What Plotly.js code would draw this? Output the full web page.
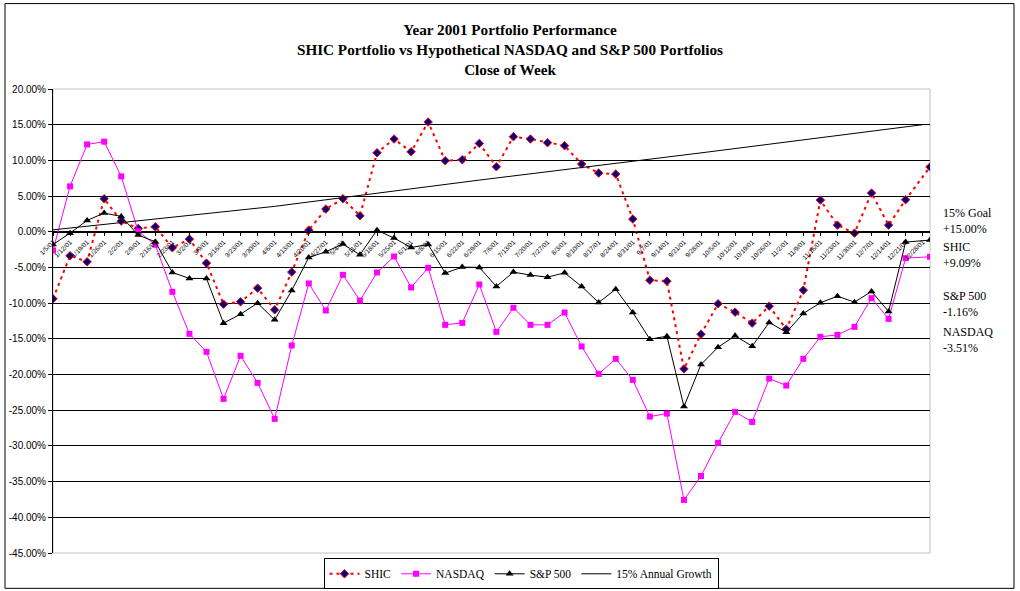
<!DOCTYPE html>
<html>
<head>
<meta charset="utf-8">
<script src="https://cdn.plot.ly/plotly-3.0.1.min.js"></script>
<style>html,body{margin:0;padding:0;background:#fff;}#chart{width:1020px;height:591px;}</style>
</head>
<body>
<div id="chart"></div>
<script>
// ---- data ----
const weekDates = [
 '2001-01-05','2001-01-12','2001-01-19','2001-01-26','2001-02-02','2001-02-09','2001-02-16','2001-02-23',
 '2001-03-02','2001-03-09','2001-03-16','2001-03-23','2001-03-30','2001-04-06','2001-04-13','2001-04-20',
 '2001-04-27','2001-05-04','2001-05-11','2001-05-18','2001-05-25','2001-06-01','2001-06-08','2001-06-15',
 '2001-06-22','2001-06-29','2001-07-06','2001-07-13','2001-07-20','2001-07-27','2001-08-03','2001-08-10',
 '2001-08-17','2001-08-24','2001-08-31','2001-09-07','2001-09-14','2001-09-21','2001-09-28','2001-10-05',
 '2001-10-12','2001-10-19','2001-10-26','2001-11-02','2001-11-09','2001-11-16','2001-11-23','2001-11-30',
 '2001-12-07','2001-12-14','2001-12-21','2001-12-31'];

const shic = [-9.39,-3.36,-4.21,4.63,1.50,0.47,0.70,-2.24,-1.03,-4.39,-10.14,-9.81,-7.90,-10.93,-5.65,0.23,
 3.18,4.63,2.24,11.07,12.99,11.21,15.37,9.95,10.09,12.38,9.11,13.32,12.99,12.48,12.06,9.49,
 8.22,8.08,1.78,-6.78,-6.92,-19.21,-14.35,-10.09,-11.26,-12.80,-10.42,-13.64,-8.18,4.44,0.93,-0.19,
 5.42,0.93,4.49,9.09];

const nasdaq = [-2.62,6.36,12.24,12.62,7.76,0.05,-1.82,-8.41,-14.30,-16.82,-23.41,-17.38,-21.17,-26.21,-15.93,-7.24,
 -11.03,-6.03,-9.63,-5.70,-3.46,-7.80,-5.05,-13.04,-12.76,-7.38,-14.02,-10.65,-13.04,-13.04,-11.31,-16.07,
 -19.91,-17.80,-20.75,-25.89,-25.47,-37.57,-34.21,-29.58,-25.23,-26.64,-20.56,-21.54,-17.80,-14.72,-14.44,-13.32,
 -9.30,-12.20,-3.69,-3.51];

const sp500 = [-1.78,-0.19,1.59,2.62,2.15,-0.47,-1.40,-5.70,-6.54,-6.54,-12.80,-11.54,-10.00,-12.34,-8.22,-3.60,
 -2.80,-1.73,-3.22,0.23,-0.89,-2.20,-1.78,-5.79,-4.95,-5.00,-7.66,-5.65,-6.07,-6.36,-5.75,-7.66,
 -9.91,-8.04,-11.31,-15.05,-14.63,-24.49,-18.60,-16.17,-14.58,-16.03,-12.71,-14.07,-11.45,-9.95,-9.02,-9.86,
 -8.36,-11.17,-1.45,-1.16];

const growthDates = ['2001-01-05','2001-04-06','2001-06-29','2001-09-28','2001-12-28'];
const growthValues = [0.27, 3.56, 7.24, 11.05, 15.00];

const tickDates = [
 '2001-01-05','2001-01-12','2001-01-19','2001-01-26','2001-02-02','2001-02-09','2001-02-16','2001-02-23',
 '2001-03-02','2001-03-09','2001-03-16','2001-03-23','2001-03-30','2001-04-06','2001-04-13','2001-04-20',
 '2001-04-27','2001-05-04','2001-05-11','2001-05-18','2001-05-25','2001-06-01','2001-06-08','2001-06-15',
 '2001-06-22','2001-06-29','2001-07-06','2001-07-13','2001-07-20','2001-07-27','2001-08-03','2001-08-10',
 '2001-08-17','2001-08-24','2001-08-31','2001-09-07','2001-09-14','2001-09-21','2001-09-28','2001-10-05',
 '2001-10-12','2001-10-19','2001-10-26','2001-11-02','2001-11-09','2001-11-16','2001-11-23','2001-11-30',
 '2001-12-07','2001-12-14','2001-12-21','2001-12-28'];
const tickLabels = [
 '1/5/01','1/12/01','1/19/01','1/26/01','2/2/01','2/9/01','2/16/01','2/23/01',
 '3/2/01','3/9/01','3/16/01','3/23/01','3/30/01','4/6/01','4/13/01','4/20/01',
 '4/27/01','5/4/01','5/11/01','5/18/01','5/25/01','6/1/01','6/8/01','6/15/01',
 '6/22/01','6/29/01','7/6/01','7/13/01','7/20/01','7/27/01','8/3/01','8/10/01',
 '8/17/01','8/24/01','8/31/01','9/7/01','9/14/01','9/21/01','9/28/01','10/5/01',
 '10/12/01','10/19/01','10/26/01','11/2/01','11/9/01','11/16/01','11/23/01','11/30/01',
 '12/7/01','12/14/01','12/21/01','12/28/01'];

const yTickVals = [20,15,10,5,0,-5,-10,-15,-20,-25,-30,-35,-40,-45];
const yTickText = ['20.00%','15.00%','10.00%','5.00%','0.00%','-5.00%','-10.00%','-15.00%','-20.00%','-25.00%','-30.00%','-35.00%','-40.00%','-45.00%'];

const sideLabels = [
  {name:'15% Goal', value:'+15.00%'},
  {name:'SHIC', value:'+9.09%'},
  {name:'S&P 500', value:'-1.16%'},
  {name:'NASDAQ', value:'-3.51%'}
];
const seriesNames = ['SHIC','NASDAQ','S&P 500','15% Annual Growth'];

// ---- geometry helpers ----
const W = 1020, H = 591;
const M = {l:53, r:90, t:89.3, b:38.3, autoexpand:false};
const PW = W - M.l - M.r, PH = H - M.t - M.b;
const px2x = px => (px - M.l) / PW;
const px2y = py => (H - M.b - py) / PH;

const serif = 'Liberation Serif, Times New Roman, serif';
const sans = 'Liberation Sans, Arial, sans-serif';

const traces = [
  {x: weekDates, y: shic, name: seriesNames[0], type:'scatter', mode:'lines+markers',
   line:{color:'#FF0000', width:2, dash:'3px,4px'},
   marker:{symbol:'diamond', size:6.5, color:'#000080', line:{color:'#FF0000', width:1}}},
  {x: weekDates, y: nasdaq, name: seriesNames[1], type:'scatter', mode:'lines+markers',
   line:{color:'#FF00FF', width:1},
   marker:{symbol:'square', size:6, color:'#FF00FF'}},
  {x: weekDates, y: sp500, name: seriesNames[2], type:'scatter', mode:'lines+markers',
   line:{color:'#000000', width:1},
   marker:{symbol:'triangle-up', size:7, color:'#000000'}},
  {x: growthDates, y: growthValues, name: seriesNames[3], type:'scatter', mode:'lines',
   line:{color:'#000000', width:1}}
];

const sideCenters = [221, 255.5, 304.5, 339.5];
const annotations = sideLabels.map((s, i) => ({
  xref:'paper', yref:'paper', x: px2x(941), y: px2y(sideCenters[i]),
  xanchor:'left', yanchor:'middle', align:'left', showarrow:false,
  text: s.name + '<br>' + s.value,
  font:{family: serif, size:12, color:'#000'}
}));

const layout = {
  width: W, height: H,
  margin: M,
  paper_bgcolor:'#fff', plot_bgcolor:'#fff',
  showlegend: true,
  title: {
    text: 'Year 2001 Portfolio Performance<br>SHIC Portfolio vs Hypothetical NASDAQ and S&P 500 Portfolios<br>Close of Week',
    font:{family: serif, size:15.2, color:'#000', weight:'bold'},
    xref:'container', x:0.5, xanchor:'center',
    yref:'container', y: 1 - 35/H, yanchor:'top'
  },
  xaxis: {
    type:'date',
    range:['2001-01-05','2001-12-31'],
    anchor:'free', position: 45/65,
    showline:true, linecolor:'#000', linewidth:1,
    ticks:'outside', ticklen:3, tickcolor:'#000',
    tickmode:'array', tickvals: tickDates, ticktext: tickLabels,
    tickangle:-45, tickfont:{family: sans, size:6.5, color:'#000'},
    showgrid:false, zeroline:false, fixedrange:true
  },
  yaxis: {
    range:[-45, 20],
    tickmode:'array', tickvals: yTickVals, ticktext: yTickText,
    tickfont:{family: sans, size:10, color:'#000'},
    showline:true, linecolor:'#000', linewidth:1,
    ticks:'outside', ticklen:4, tickcolor:'#000',
    showgrid:true, gridcolor:'#000', gridwidth:1,
    zeroline:false, fixedrange:true
  },
  legend: {
    orientation:'h', xref:'paper', yref:'paper',
    x: px2x(521), xanchor:'center', y: px2y(558), yanchor:'top',
    bordercolor:'#000', borderwidth:1, bgcolor:'#fff',
    font:{family: serif, size:11.5, color:'#000'},
    itemwidth:30, tracegroupgap:0
  },
  shapes: [
    {type:'rect', xref:'paper', yref:'paper', x0:0, x1:1, y0:0, y1:1,
     line:{color:'#C0C0C0', width:1}, layer:'between'},
    {type:'rect', xref:'paper', yref:'paper', x0:px2x(5), x1:px2x(1014), y0:px2y(588), y1:px2y(4),
     line:{color:'#000', width:1}, layer:'below'}
  ],
  annotations: annotations
};

Plotly.newPlot('chart', traces, layout, {staticPlot:true, displayModeBar:false});
</script>
</body>
</html>
